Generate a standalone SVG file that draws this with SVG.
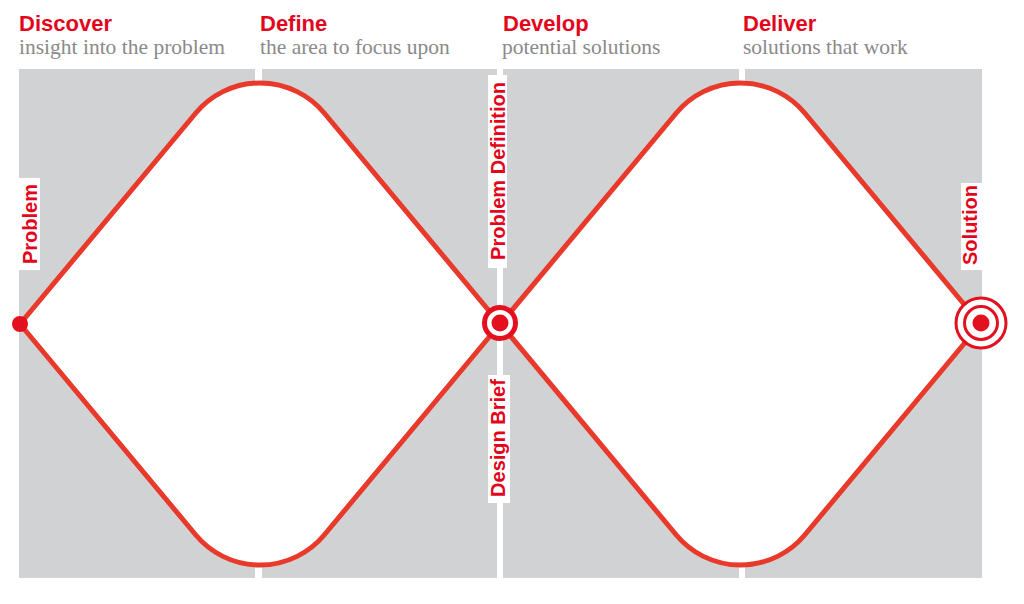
<svg xmlns="http://www.w3.org/2000/svg" width="1024" height="604" viewBox="0 0 1024 604">
<style>
.panel{fill:#d1d2d4}
.title{font-family:"Liberation Sans",Arial,sans-serif;font-weight:bold;font-size:22px;fill:#e3051b}
.sub{font-family:"Liberation Serif","Times New Roman",serif;font-size:21.5px;fill:#8a8a8a}
.diamond{fill:#ffffff;stroke:#e8392a;stroke-width:5;stroke-linejoin:round}
.vlabel{font-family:"Liberation Sans",Arial,sans-serif;font-weight:bold;font-size:20px;fill:#e3051b;text-anchor:middle}
.lbox{fill:#ffffff}
.red{fill:#e3101f}
</style>
<defs>
<path id="dpath" d="M20,324 L195.8,113 A83.6,83.6 0 0 1 324.2,113 L500,324 L324.2,535 A83.6,83.6 0 0 1 195.8,535 Z"/>
</defs>
<rect x="0" y="0" width="1024" height="604" fill="#ffffff"/>
<g id="panels">
<rect class="panel" x="19" y="69" width="236" height="509"/>
<rect class="panel" x="262" y="69" width="235" height="509"/>
<rect class="panel" x="503" y="69" width="236" height="509"/>
<rect class="panel" x="745" y="69" width="237" height="509"/>
</g>
<g id="header-discover"><text class="title" x="19" y="31">Discover</text><text class="sub" x="19" y="54">insight into the problem</text></g>
<g id="header-define"><text class="title" x="260" y="31">Define</text><text class="sub" x="260" y="54">the area to focus upon</text></g>
<g id="header-develop"><text class="title" x="503" y="31">Develop</text><text class="sub" x="502" y="54">potential solutions</text></g>
<g id="header-deliver"><text class="title" x="743" y="31">Deliver</text><text class="sub" x="743" y="54">solutions that work</text></g>
<g id="connectors">
<use href="#dpath" class="diamond"/>
<use href="#dpath" class="diamond" transform="translate(480.5,0)"/>
</g>
<g id="label-problem"><rect class="lbox" x="18" y="178" width="22" height="92"/><text class="vlabel" transform="translate(37,224) rotate(-90)">Problem</text></g>
<g id="label-problem-definition"><rect class="lbox" x="488" y="75" width="19" height="193"/><text class="vlabel" transform="translate(505,171) rotate(-90)">Problem Definition</text></g>
<g id="label-design-brief"><rect class="lbox" x="488" y="375" width="22" height="128"/><text class="vlabel" transform="translate(505,438) rotate(-90)">Design Brief</text></g>
<g id="label-solution"><rect class="lbox" x="961" y="183" width="21" height="87"/><text class="vlabel" transform="translate(977,225) rotate(-90)">Solution</text></g>
<g id="node-start"><circle class="red" cx="20" cy="324" r="8"/></g>
<g id="node-mid"><circle cx="500" cy="323" r="15.5" fill="#ffffff" stroke="#e3101f" stroke-width="5"/><circle class="red" cx="500" cy="323" r="8.5"/></g>
<g id="node-end"><circle cx="981" cy="323" r="25" fill="#ffffff" stroke="#e3101f" stroke-width="3"/><circle cx="981" cy="323" r="16.5" fill="#ffffff" stroke="#e3101f" stroke-width="3"/><circle class="red" cx="981" cy="323" r="8.5"/></g>
</svg>
